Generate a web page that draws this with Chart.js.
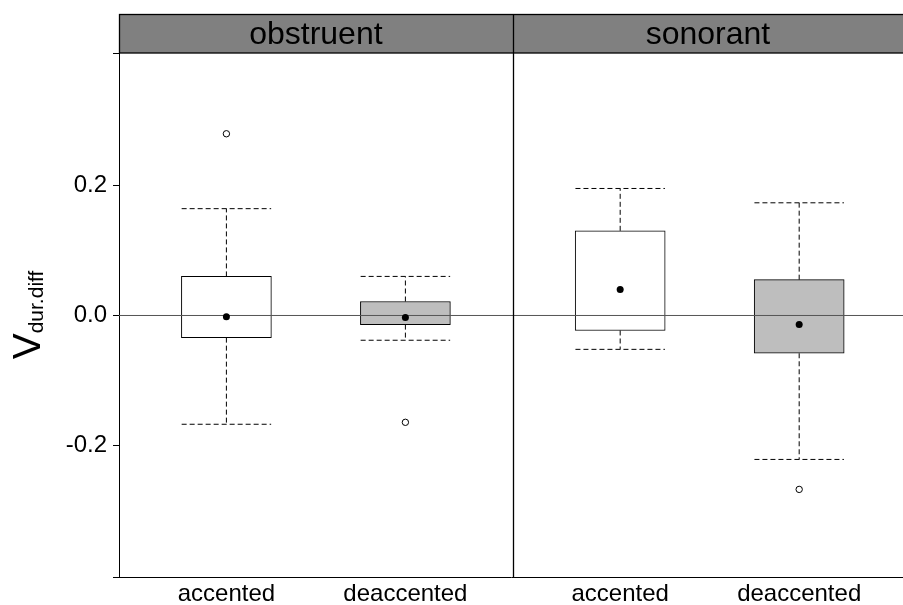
<!DOCTYPE html>
<html>
<head>
<meta charset="utf-8">
<script src="https://cdn.jsdelivr.net/npm/chart.js@4.4.0/dist/chart.umd.min.js"></script>
<style>
  body { margin: 0; background: #fff; }
  #wrap { width: 903px; height: 605px; }
</style>
</head>
<body>
<div id="wrap"><canvas id="boxChart" width="903" height="605"></canvas></div>
<script>
// panels and categories
const panels = ['obstruent', 'sonorant'];
const panelEdges = [0.4, 2.6, 4.78];
const xLabels = ['accented', 'deaccented', 'accented', 'deaccented'];
const xPos = [1, 2, 3.2, 4.2];

// box statistics per category
const q1 = [-0.034, -0.014, -0.023, -0.058];
const q3 = [0.060, 0.0215, 0.130, 0.055];
const medians = [-0.002, -0.003, 0.040, -0.014];
const whiskLo = [-0.167, -0.038, -0.052, -0.221];
const whiskHi = [0.164, 0.060, 0.195, 0.173];
const outliers = [[0.279], [-0.164], [], [-0.267]];

const yTicks = [-0.2, 0, 0.2];
const yMin = -0.4015, yMax = 0.403;

const boxFill = ['#ffffff', '#bebebe', '#ffffff', '#bebebe'];
const halfBox = 0.25;
const FONT = '"Liberation Sans", Arial, Helvetica, sans-serif';

// whisker segments (null y breaks the line)
const whiskerPts = [];
xPos.forEach((x, i) => {
  whiskerPts.push({x: x, y: q3[i]}, {x: x, y: whiskHi[i]}, {x: x, y: null});
  whiskerPts.push({x: x - halfBox, y: whiskHi[i]}, {x: x + halfBox, y: whiskHi[i]}, {x: x, y: null});
  whiskerPts.push({x: x, y: q1[i]}, {x: x, y: whiskLo[i]}, {x: x, y: null});
  whiskerPts.push({x: x - halfBox, y: whiskLo[i]}, {x: x + halfBox, y: whiskLo[i]}, {x: x, y: null});
});

const outlierPts = [];
xPos.forEach((x, i) => outliers[i].forEach(v => outlierPts.push({x: x, y: v})));

const panelPlugin = {
  id: 'panels',
  afterDraw(chart) {
    const ctx = chart.ctx;
    const xs = chart.scales.x;
    const area = chart.chartArea;
    const stripTop = 14.5;
    ctx.save();
    // strip
    ctx.fillStyle = '#808080';
    ctx.fillRect(area.left, stripTop, area.right - area.left + 2, area.top - stripTop);
    ctx.strokeStyle = '#000';
    ctx.lineWidth = 1.3;
    ctx.strokeRect(area.left + 0.5, stripTop, area.right - area.left + 4, area.top - stripTop);
    // divider lines
    for (let k = 1; k < panelEdges.length - 1; k++) {
      const px = Math.round(xs.getPixelForValue(panelEdges[k])) + 0.5;
      ctx.beginPath();
      ctx.moveTo(px, stripTop);
      ctx.lineTo(px, area.bottom);
      ctx.lineWidth = 1.3;
      ctx.stroke();
    }
    // strip labels
    ctx.fillStyle = '#000';
    ctx.font = '32px ' + FONT;
    ctx.textAlign = 'center';
    ctx.textBaseline = 'middle';
    panels.forEach((p, k) => {
      const cx = (xs.getPixelForValue(panelEdges[k]) + xs.getPixelForValue(panelEdges[k + 1])) / 2;
      ctx.fillText(p, cx, (stripTop + area.top) / 2 + 1);
    });
    // y title with subscript
    ctx.translate(40, (area.top + area.bottom) / 2);
    ctx.rotate(-Math.PI / 2);
    ctx.textAlign = 'left';
    ctx.textBaseline = 'alphabetic';
    ctx.font = '39px ' + FONT;
    const w1 = ctx.measureText('V').width;
    ctx.font = '21px ' + FONT;
    const w2 = ctx.measureText('dur.diff').width;
    const start = -(w1 + w2) / 2;
    ctx.font = '39px ' + FONT;
    ctx.fillText('V', start, 0);
    ctx.font = '21px ' + FONT;
    ctx.fillText('dur.diff', start + w1, 3);
    ctx.restore();
  }
};

const ctx = document.getElementById('boxChart').getContext('2d');
const boxChart = new Chart(ctx, {
  type: 'bar',
  data: {
    datasets: [
      {
        type: 'scatter',
        data: xPos.map((x, i) => ({x: x, y: medians[i]})),
        pointRadius: 3.5,
        pointBackgroundColor: '#000',
        pointBorderWidth: 0,
        order: 0
      },
      {
        type: 'scatter',
        data: outlierPts,
        pointRadius: 3.2,
        pointBackgroundColor: '#fff',
        pointBorderColor: '#000',
        pointBorderWidth: 1,
        order: 0
      },
      {
        type: 'line',
        data: [{x: panelEdges[0], y: 0}, {x: panelEdges[panelEdges.length - 1], y: 0}],
        borderColor: '#555',
        borderWidth: 1,
        pointRadius: 0,
        order: 1
      },
      {
        type: 'line',
        data: whiskerPts,
        borderColor: '#000',
        borderWidth: 1,
        borderDash: [5, 3],
        pointRadius: 0,
        spanGaps: false,
        order: 2
      },
      {
        type: 'bar',
        data: xPos.map((x, i) => ({x: x, y: [q1[i], q3[i]]})),
        backgroundColor: boxFill,
        borderColor: '#000',
        borderWidth: 1,
        borderSkipped: false,
        barThickness: 90,
        grouped: false,
        order: 3
      }
    ]
  },
  options: {
    responsive: false,
    animation: false,
    layout: { autoPadding: false, padding: { top: 53, left: 0, right: 0, bottom: 0 } },
    plugins: {
      legend: { display: false },
      tooltip: { enabled: false }
    },
    scales: {
      x: {
        type: 'linear',
        min: panelEdges[0],
        max: panelEdges[panelEdges.length - 1],
        offset: false,
        afterBuildTicks: s => { s.ticks = xPos.map(v => ({value: v})); },
        afterFit: s => { s.height = 28; },
        grid: { display: false, drawTicks: false, tickLength: 0 },
        border: { display: true, color: '#000', width: 1 },
        ticks: {
          autoSkip: false,
          maxRotation: 0,
          padding: 3,
          color: '#000',
          font: { size: 24, family: FONT },
          callback: (v, i) => xLabels[i]
        }
      },
      y: {
        min: yMin,
        max: yMax,
        afterBuildTicks: s => { s.ticks = [yMin].concat(yTicks, [yMax]).map(v => ({value: v})); },
        afterFit: s => { s.width = 119; },
        grid: { drawOnChartArea: false, drawTicks: true, tickLength: 6, color: '#000' },
        border: { display: true, color: '#000', width: 1 },
        ticks: {
          padding: 6,
          color: '#000',
          font: { size: 24, family: FONT },
          callback: v => yTicks.some(t => Math.abs(t - v) < 1e-9) ? v.toFixed(1) : ''
        }
      }
    }
  },
  plugins: [panelPlugin]
});
</script>
</body>
</html>
